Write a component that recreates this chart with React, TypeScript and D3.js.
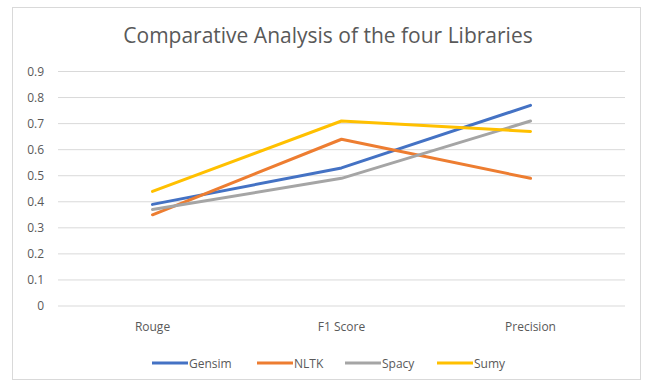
import React from "react";
import * as d3 from "d3";

const categories = ["Rouge", "F1 Score", "Precision"];
const seriesNames = ["Gensim", "NLTK", "Spacy", "Sumy"];
const gensim = [0.39, 0.53, 0.77];
const nltk = [0.35, 0.64, 0.49];
const spacy = [0.37, 0.49, 0.71];
const sumy = [0.44, 0.71, 0.67];
const yTicks = [0, 0.1, 0.2, 0.3, 0.4, 0.5, 0.6, 0.7, 0.8, 0.9];
const colors = ["#4472C4", "#ED7D31", "#A5A5A5", "#FFC000"];
const title = "Comparative Analysis of the four Libraries";

export default function App() {
  const W = 648, H = 383;
  const font = "'Open Sans', 'Liberation Sans', sans-serif";
  const x = d3.scaleBand<string>().domain(categories).range([58, 625]);
  const y = d3.scaleLinear().domain([0, 0.9]).range([306, 71.5]);
  const data = [gensim, nltk, spacy, sumy];
  const line = d3
    .line<number>()
    .x((_, i) => (x(categories[i]) as number) + x.bandwidth() / 2)
    .y((d) => y(d));
  const legendX = [152, 257, 345, 437];
  return (
    <svg width={W} height={H} style={{ position: "absolute", left: 0, top: 0 }}>
      <rect x={0} y={0} width={W} height={H} fill="#fff" />
      <rect x={12.5} y={7.5} width={628} height={372} fill="#fff" stroke="#d9d9d9" />
      <text x={328} y={43} textAnchor="middle" fontFamily={font} fontSize={21} fill="#595959">
        {title}
      </text>
      {yTicks.map((t) => (
        <g key={t}>
          <line x1={58} x2={625} y1={y(t)} y2={y(t)} stroke="#d9d9d9" strokeWidth={1} />
          <text x={44} y={y(t) + 4} textAnchor="end" fontFamily={font} fontSize={12} fill="#595959">
            {t === 0 ? "0" : t.toFixed(1)}
          </text>
        </g>
      ))}
      {categories.map((c) => (
        <text key={c} x={(x(c) as number) + x.bandwidth() / 2} y={331} textAnchor="middle" fontFamily={font} fontSize={12} fill="#595959">
          {c}
        </text>
      ))}
      {data.map((d, i) => (
        <path key={i} d={line(d) || ""} fill="none" stroke={colors[i]} strokeWidth={3} strokeLinejoin="round" strokeLinecap="round" />
      ))}
      {seriesNames.map((s, i) => (
        <g key={s}>
          <line x1={legendX[i]} x2={legendX[i] + 36} y1={363} y2={363} stroke={colors[i]} strokeWidth={3} />
          <text x={legendX[i] + 37} y={367.5} fontFamily={font} fontSize={12} fill="#595959">
            {s}
          </text>
        </g>
      ))}
    </svg>
  );
}
